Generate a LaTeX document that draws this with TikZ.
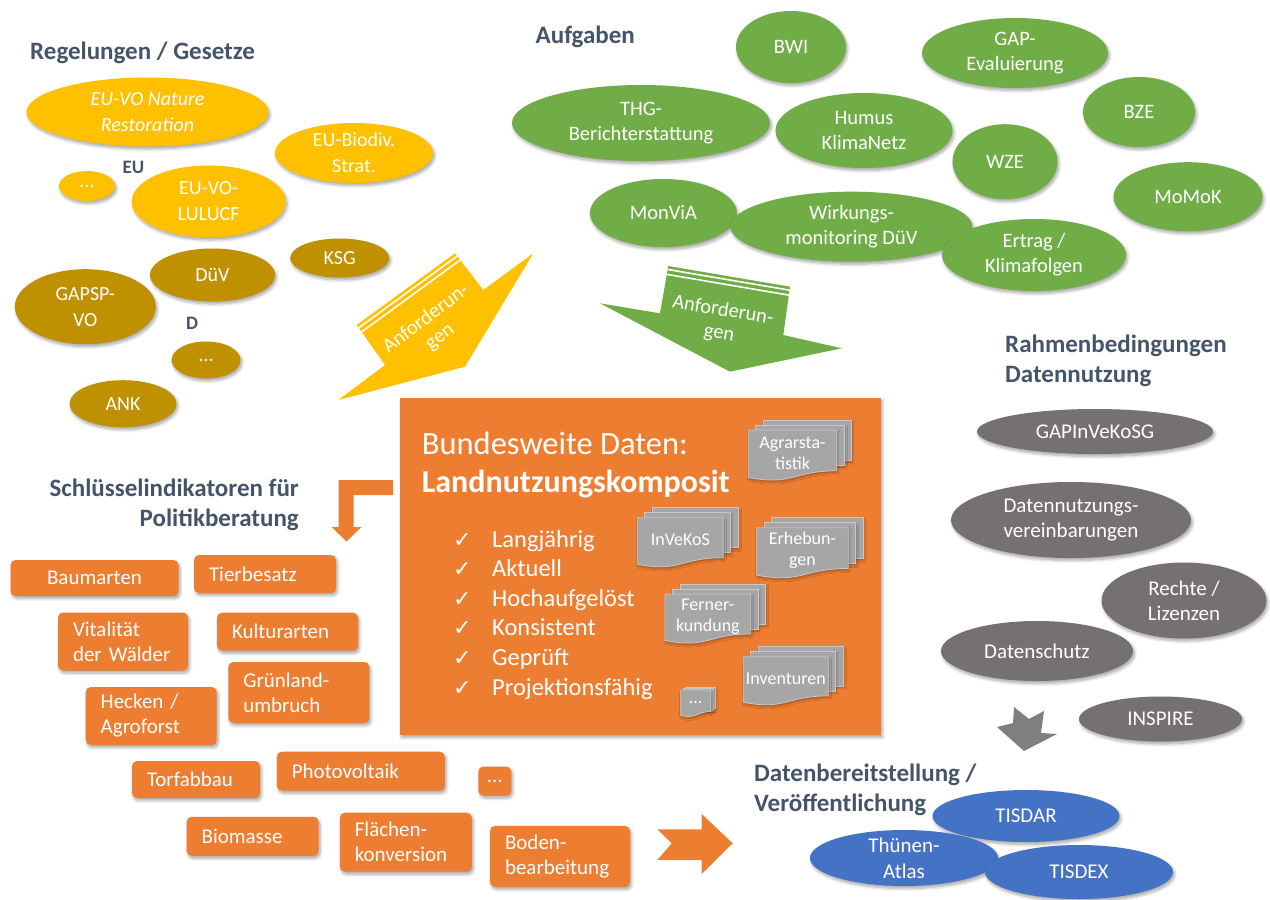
\documentclass[tikz,border=0pt]{standalone}
\usepackage{fontspec}
\setmainfont{Carlito}
\newfontfamily\tickfont{DejaVu Sans}
\usetikzlibrary{
  shapes.geometric,
  positioning,
  calc,
  shadows.blur}
\definecolor{euyellow}{RGB}{255,192,0}
\definecolor{degold}{RGB}{191,144,0}
\definecolor{taskgreen}{RGB}{112,173,71}
\definecolor{kompoorange}{RGB}{237,125,49}
\definecolor{condgray}{RGB}{118,113,113}
\definecolor{pubblue}{RGB}{68,114,196}
\definecolor{docgray}{RGB}{166,166,166}
\definecolor{docline}{RGB}{200,200,200}
\definecolor{arrowgray}{RGB}{127,127,127}
\definecolor{titleblue}{RGB}{68,84,106}
\tikzset{
  %% soft_shadow : blurred shadow below bubbles and boxes
  soft_shadow/.style={
    blur shadow={shadow xshift=1.5pt, shadow yshift=-2.5pt,
      shadow blur radius=3pt, shadow blur steps=6, shadow opacity=35}
  },
  %% bubble : common base of all ellipses
  bubble/.style={
    ellipse,
    inner sep=-4pt,
    text=white,
    align=center,
    soft_shadow,
    font=\fontsize{20}{26}\selectfont
  },
  %% eu : EU regulations
  eu/.style={bubble, fill=euyellow},
  %% national : German regulations
  national/.style={bubble, fill=degold},
  %% task : tasks (green)
  task/.style={bubble, fill=taskgreen, font=\fontsize{20.5}{25}\selectfont},
  %% condition : conditions of data use (grey)
  condition/.style={bubble, fill=condgray, font=\fontsize{21}{25}\selectfont},
  %% publication : data provision (blue)
  publication/.style={bubble, fill=pubblue, font=\fontsize{21}{26}\selectfont},
  %% indicator : key indicator box
  indicator/.style={
    rectangle,
    rounded corners=5pt,
    fill=kompoorange,
    text=white,
    inner xsep=15pt,
    inner ysep=0pt,
    align=left,
    soft_shadow,
    font=\fontsize{21}{25}\selectfont
  },
  %% heading : dark blue section titles
  heading/.style={text=titleblue, inner sep=0pt, font=\bfseries\fontsize{25}{30}\selectfont},
  %% level : EU / D labels
  level/.style={text=titleblue, inner sep=0pt, font=\bfseries\fontsize{19}{22}\selectfont},
  %% docpage : one sheet of a document stack
  docpage/.style={fill=docgray, draw=docline, line width=0.8pt,
    blur shadow={shadow xshift=1pt, shadow yshift=-2pt,
      shadow blur radius=2pt, shadow blur steps=4, shadow opacity=30}},
  doctext/.style={text=white, align=center, inner sep=0pt, font=\fontsize{18}{21}\selectfont},
  %% criterion : ticked list in the composite box
  criterion/.style={text=white, anchor=base west, inner sep=0pt, font=\fontsize{24.5}{28}\selectfont},
  tick/.style={text=white, anchor=base west, inner sep=0pt, font=\tickfont\fontsize{22}{24}\selectfont},
  %% demand : rotated text on the big arrows
  demand/.style={text=white, align=center, inner sep=0pt, font=\fontsize{20.5}{23}\selectfont},
  stripe/.style={white, line width=1.6pt}
}
%% \docstack[layer offset]{name}{x}{y}{width}{height}{text}
\newcommand{\docstack}[7][7.5]{%
  \begin{scope}[shift={(#3,#4)}]
    \foreach \layer in {2,1}
      \draw [docpage] ({#1*\layer},{-2/3*#1*\layer}) rectangle ++(#5,{0.8*#6});
    \draw [docpage] (0,0) -- (#5,0) -- (#5,{0.8*#6})
      .. controls ({0.5*#5},{0.8*#6}) and ({0.5*#5},{1.1*#6}) .. (0,{0.93*#6}) -- cycle;
    \node (#2) [doctext] at ({0.5*#5},{0.45*#6}) {#7};
  \end{scope}}

\begin{document}
\begin{tikzpicture}[x=1pt, y=-1pt]
  \useasboundingbox (0,0) rectangle (1270,900);

  %% Regelungen / Gesetze
  \node (regeltitle) [heading, anchor=base west] at (30,59) {Regelungen / Gesetze};

  \node (restoration) [eu, minimum width=242pt, minimum height=69pt,
    font=\itshape\fontsize{20}{26}\selectfont] at (147.5,112) {EU-VO Nature\\Restoration};
  \node (biodiv) [eu, minimum width=158pt, minimum height=60pt] at (354,153) {EU-Biodiv.\\Strat.};
  \node (eumore) [eu, minimum width=56pt, minimum height=30pt] at (87,186) {...};
  \node (lulucf) [eu, minimum width=154pt, minimum height=72pt] at (208.7,201.5) {EU-VO-\\LULUCF};
  \node (eulevel) [level] at (133.5,167) {EU};

  \node (ksg) [national, minimum width=99pt, minimum height=39pt] at (339.7,258) {KSG};
  \node (duev) [national, minimum width=125pt, minimum height=53pt] at (212.5,275) {DüV};
  \node (gapsp) [national, minimum width=141pt, minimum height=75pt] at (85.3,306.7) {GAPSP-\\VO};
  \node (delevel) [level] at (192,323.3) {D};
  \node (demore) [national, minimum width=69pt, minimum height=37pt] at (206,360) {...};
  \node (ank) [national, minimum width=107pt, minimum height=47pt] at (123,403.7) {ANK};

  %% Aufgaben
  \node (tasktitle) [heading, anchor=base west] at (535.5,43) {Aufgaben};

  \node (bwi) [task, minimum width=110pt, minimum height=72pt] at (791,47) {BWI};
  \node (gapeval) [task, minimum width=186pt, minimum height=70pt] at (1015,53) {GAP-\\Evaluierung};
  \node (thg) [task, minimum width=258pt, minimum height=76pt] at (641,123) {THG-\\Berichterstattung};
  \node (humus) [task, minimum width=177pt, minimum height=75pt] at (864,130.5) {Humus\\KlimaNetz};
  \node (bze) [task, minimum width=112pt, minimum height=70pt] at (1139,112) {BZE};
  \node (wze) [task, minimum width=105pt, minimum height=75pt] at (1005,161.7) {WZE};
  \node (momok) [task, minimum width=149pt, minimum height=69pt] at (1188,196.7) {MoMoK};
  \node (monvia) [task, minimum width=147pt, minimum height=68pt] at (663.4,213) {MonViA};
  \node (wirkung) [task, minimum width=242pt, minimum height=70pt] at (851.5,226.7) {Wirkungs-\\monitoring DüV};
  \node (ertrag) [task, minimum width=184pt, minimum height=72pt] at (1034,255) {Ertrag /\\Klimafolgen};

  %% Anforderungen (yellow)
  \coordinate (yel_a) at (356.7,325);
  \coordinate (yel_b) at (455,253.3);
  \coordinate (yel_c) at (483.3,290);
  \coordinate (yel_g) at (385,365);
  \fill [euyellow] (yel_a) -- (yel_b) -- (yel_c) -- (533.3,253.3) -- (465,366.7)
    -- (338.3,400) -- (yel_g) -- cycle;
  \draw [stripe] ($(yel_a)!3.5pt!(yel_g)$) -- ($(yel_b)!3.5pt!(yel_c)$);
  \draw [stripe] ($(yel_a)!8.5pt!(yel_g)$) -- ($(yel_b)!8.5pt!(yel_c)$);
  \node (yeldemand) [demand, rotate=37] at (433,328) {Anforderun-\\gen};

  %% Anforderungen (green)
  \coordinate (grn_a) at (668.3,266);
  \coordinate (grn_b) at (790,286.7);
  \coordinate (grn_c) at (783.3,335);
  \coordinate (grn_g) at (660,313.3);
  \fill [taskgreen] (grn_a) -- (grn_b) -- (grn_c) -- (841.7,348.3) -- (730,371.7)
    -- (600,303.3) -- (grn_g) -- cycle;
  \draw [stripe] ($(grn_a)!3.5pt!(grn_g)$) -- ($(grn_b)!3.5pt!(grn_c)$);
  \draw [stripe] ($(grn_a)!8.5pt!(grn_g)$) -- ($(grn_b)!8.5pt!(grn_c)$);
  \node (grndemand) [demand, rotate=-9.6] at (721,322) {Anforderun-\\gen};

  %% Landnutzungskomposit
  \node (komposit) [rectangle, fill=kompoorange, soft_shadow,
    minimum width=481pt, minimum height=337pt] at (640.5,566.5) {};
  \node (kompotitle) [text=white, anchor=base west, inner sep=0pt,
    font=\fontsize{32.5}{36}\selectfont] at (421.7,454) {Bundesweite Daten:};
  \node (kompobold) [text=white, anchor=base west, inner sep=0pt,
    font=\bfseries\fontsize{32}{36}\selectfont] at (421.7,492) {Landnutzungskomposit};
  \foreach \crit [count=\i] in {Langjährig, Aktuell, Hochaufgelöst, Konsistent, Geprüft, Projektionsfähig} {
    \node (tick\i) [tick] at (453, {517.4+29.6*\i}) {✓};
    \node (crit\i) [criterion] at (492, {517.4+29.6*\i}) {\crit};
  }

  %% Data sources
  \docstack{agrar}{748.3}{430}{88.5}{51}{Agrarsta-\\tistik}
  \docstack{invekos}{637.3}{517.7}{86}{50}{InVeKoS}
  \docstack{erheb}{756.7}{527.7}{91.5}{51}{Erhebun-\\gen}
  \docstack{ferner}{665}{594}{85.7}{50}{Ferner-\\kundung}
  \docstack{invent}{743.3}{656.7}{85}{49}{Inventuren}
  \docstack[2.2]{docmore}{680.7}{690}{30}{27}{...}

  %% Schluesselindikatoren
  \node (indtitle) [heading, align=right, anchor=east] at (299,505) {Schlüsselindikatoren für\\Politikberatung};
  \fill [kompoorange] (393,480) -- (338.5,480) -- (338.5,527) -- (331.5,527) -- (346.5,541.5)
    -- (361.5,527) -- (353.5,527) -- (353.5,495) -- (393,495) -- cycle;

  \node (baum) [indicator, text width=138pt, align=center, minimum height=36pt] at (94.5,578) {Baumarten};
  \node (tier) [indicator, text width=112pt, minimum height=38pt] at (265,574) {Tierbesatz};
  \node (vital) [indicator, text width=100pt, minimum height=58pt] at (123,641.5) {Vitalität\\der Wälder};
  \node (kultur) [indicator, text width=111pt, minimum height=38pt] at (287.5,631.7) {Kulturarten};
  \node (gruen) [indicator, text width=111pt, minimum height=61pt] at (298.8,692.5) {Grünland-\\umbruch};
  \node (hecken) [indicator, text width=101pt, minimum height=58pt] at (151.2,716) {Hecken /\\Agroforst};
  \node (torf) [indicator, text width=98pt, minimum height=37pt] at (196,779.5) {Torfabbau};
  \node (photo) [indicator, text width=138pt, minimum height=39pt] at (360.8,771.2) {Photovoltaik};
  \node (indmore) [indicator, inner xsep=0pt, text width=33pt, align=center, minimum height=29pt] at (494.8,781) {...};
  \node (bio) [indicator, text width=102pt, minimum height=39pt] at (252.6,836.3) {Biomasse};
  \node (flaechen) [indicator, text width=102pt, minimum height=59pt] at (405.8,842.2) {Flächen-\\konversion};
  \node (boden) [indicator, text width=110pt, minimum height=61pt] at (560,856.4) {Boden-\\bearbeitung};

  \fill [kompoorange] (657.3,829.3) -- (701.7,829.3) -- (701.7,814) -- (732.7,843.3)
    -- (701.7,874) -- (701.7,860) -- (657.3,860) -- (671.7,843.3) -- cycle;

  %% Rahmenbedingungen Datennutzung
  \node (condtitle) [heading, align=left, anchor=west] at (1005,361) {Rahmenbedingungen\\Datennutzung};

  \node (gapinvekos) [condition, minimum width=236pt, minimum height=45pt] at (1095,431.5) {GAPInVeKoSG};
  \node (nutzung) [condition, minimum width=240pt, minimum height=76pt] at (1071,520) {Datennutzungs-\\vereinbarungen};
  \node (rechte) [condition, minimum width=165pt, minimum height=76pt] at (1184,600.5) {Rechte /\\Lizenzen};
  \node (datenschutz) [condition, minimum width=192pt, minimum height=60pt] at (1037,651) {Datenschutz};
  \node (inspire) [condition, minimum width=163pt, minimum height=45pt] at (1160.5,719) {INSPIRE};

  \fill [arrowgray] (1014,707) -- (1029,719) -- (1044,711) -- (1041,733) -- (1057,734)
    -- (1024,751) -- (997,727) -- (1013,723) -- cycle;

  %% Datenbereitstellung / Veroeffentlichung
  \node (pubtitle) [heading, align=left, anchor=west] at (754,789.5) {Datenbereitstellung /\\Veröffentlichung};

  \node (tisdar) [publication, minimum width=187pt, minimum height=52pt] at (1026,816) {TISDAR};
  \node (atlas) [publication, inner sep=-9pt, minimum width=188pt, minimum height=56pt] at (904,858) {Thünen-\\Atlas};
  \node (tisdex) [publication, minimum width=188pt, minimum height=54pt] at (1079,872) {TISDEX};

\end{tikzpicture}
\end{document}
